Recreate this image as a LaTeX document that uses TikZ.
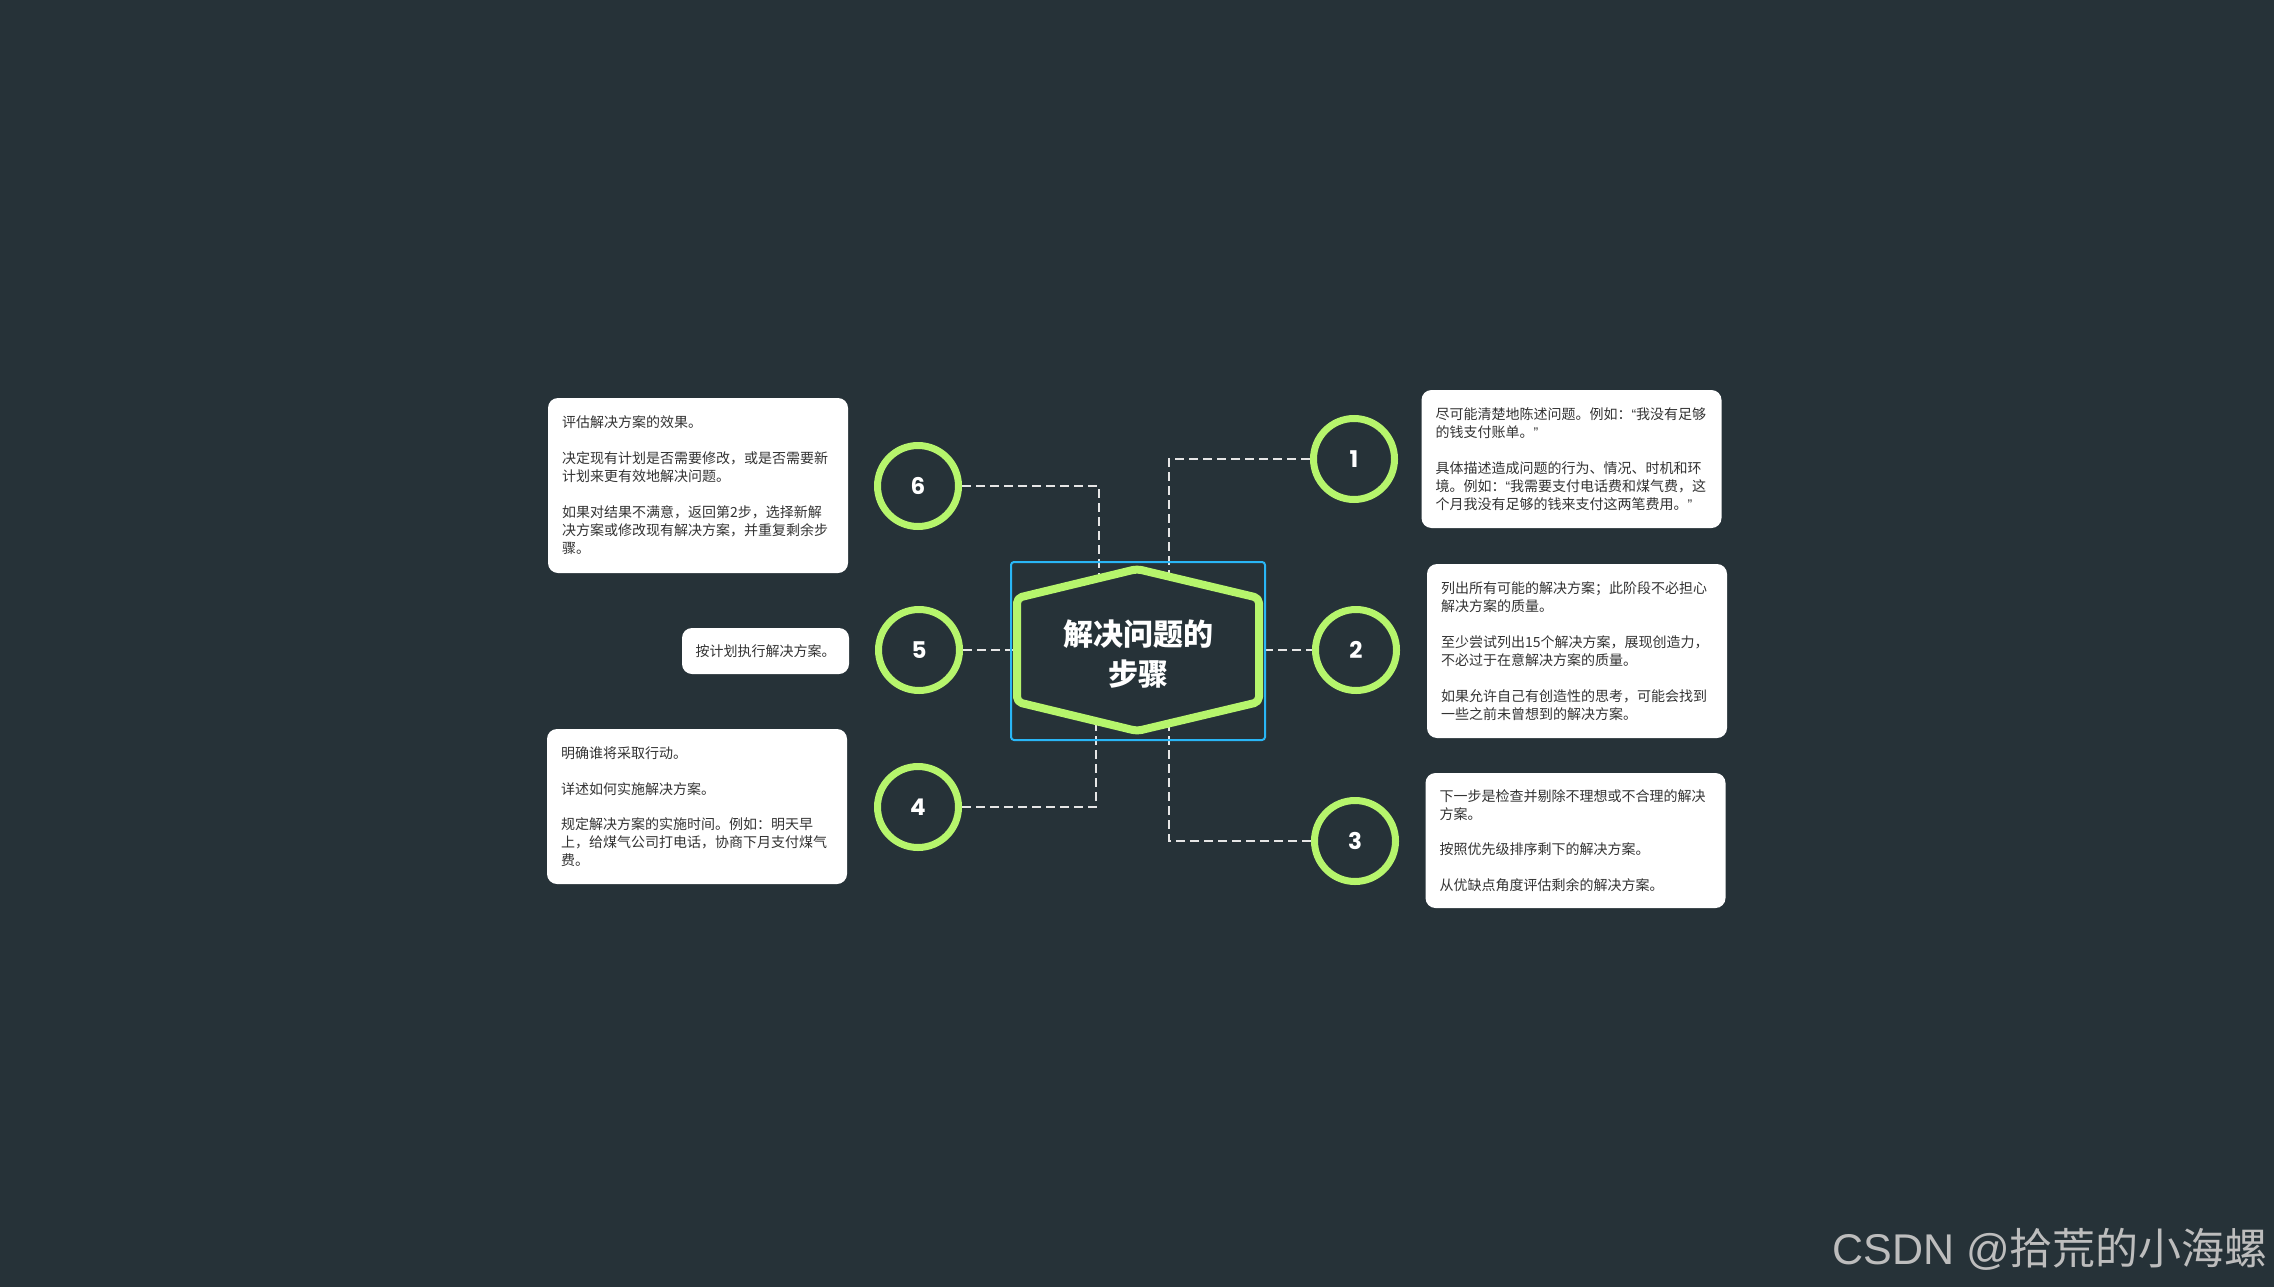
\documentclass[tikz,border=0pt]{standalone}
\usepackage{fontspec}
\newfontfamily\cjk{Noto Sans CJK SC}
\newfontfamily\numfont{Poppins}
\newfontfamily\wmfont{Liberation Sans}
\newcommand\oq{{\wmfont “}}
\newcommand\cq{{\wmfont ”}}
\usetikzlibrary{calc}
\definecolor{bg}{HTML}{263238}
\definecolor{lime}{HTML}{B6F56C}
\definecolor{selblue}{HTML}{29B6F6}
\definecolor{dashc}{HTML}{E6E6E6}
\definecolor{txt}{HTML}{333333}
\definecolor{wm}{HTML}{BDBDBD}
\tikzset{
  numcircle/.style={circle,draw=lime,line width=7pt,fill=bg,minimum size=81pt,inner sep=0pt,
    text=white,font=\numfont\bfseries\fontsize{23pt}{23pt}\selectfont},
  notebox/.style={rectangle,rounded corners=10pt,fill=white,draw=none,align=left,inner xsep=14pt,
    inner ysep=0pt,text=txt,font=\cjk\fontsize{14pt}{18pt}\selectfont},
  conn/.style={draw=dashc,line width=2pt,dash pattern=on 9pt off 5pt},
}
\begin{document}
\begin{tikzpicture}[x=1pt,y=-1pt]
\fill[bg] (0,0) rectangle (2274,1287);
\useasboundingbox (0,0) rectangle (2274,1287);

% centre anchor
\coordinate (hexc) at (1138,650);

% circles
\node[numcircle] (c1) at (1354,459) {1};
\node[numcircle] (c2) at (1356,650) {2};
\node[numcircle] (c3) at (1355,841) {3};
\node[numcircle] (c4) at (918,807) {4};
\node[numcircle] (c5) at (919,650) {5};
\node[numcircle] (c6) at (918,486) {6};

% connectors (drawn under the hexagon)
\draw[conn] (c6.east) -| ($(hexc)+(-39,0)$);
\draw[conn] (c1.west) -| ($(hexc)+(31,0)$);
\draw[conn] (c5.east) -- (hexc);
\draw[conn] (hexc) -- (c2.west);
\draw[conn] (c4.east) -| ($(hexc)+(-42,0)$);
\draw[conn] (c3.west) -| ($(hexc)+(31,0)$);

% selection frame
\draw[selblue,line width=2pt,rounded corners=3pt] (1011,562) rectangle (1265,740);

% hexagon
\draw[lime,line width=8pt,fill=bg,rounded corners=5pt,line join=round]
  (1137,569) -- (1259,598) -- (1259,702) -- (1137,731) -- (1017,702) -- (1017,598) -- cycle;
\node[text=white,align=center,font=\cjk\bfseries\fontsize{30pt}{40pt}\selectfont] (hex) at (1138,654)
  {解决问题的\\步骤};

% note boxes
\node[notebox,text width=272pt,minimum height=175pt] (t6) at (698,485.5)
  {评估解决方案的效果。\\[18pt]
   决定现有计划是否需要修改，或是否需要新\\计划来更有效地解决问题。\\[18pt]
   如果对结果不满意，返回第2步，选择新解\\决方案或修改现有解决方案，并重复剩余步\\骤。};
\node[notebox,text width=272pt,minimum height=138pt] (t1) at (1571.5,459)
  {尽可能清楚地陈述问题。例如：\oq 我没有足够\\的钱支付账单。\cq\\[18pt]
   具体描述造成问题的行为、情况、时机和环\\境。例如：\oq 我需要支付电话费和煤气费，这\\个月我没有足够的钱来支付这两笔费用。\cq};
\node[notebox,text width=272pt,minimum height=174pt] (t2) at (1577,651)
  {列出所有可能的解决方案；此阶段不必担心\\解决方案的质量。\\[18pt]
   至少尝试列出15个解决方案，展现创造力，\\不必过于在意解决方案的质量。\\[18pt]
   如果允许自己有创造性的思考，可能会找到\\一些之前未曾想到的解决方案。};
\node[notebox,text width=272pt,minimum height=135pt] (t3) at (1575.5,840.5)
  {下一步是检查并剔除不理想或不合理的解决\\方案。\\[17pt]
   按照优先级排序剩下的解决方案。\\[18pt]
   从优缺点角度评估剩余的解决方案。};
\node[notebox,text width=272pt,minimum height=155pt] (t4) at (697,806.5)
  {明确谁将采取行动。\\[18pt]
   详述如何实施解决方案。\\[17pt]
   规定解决方案的实施时间。例如：明天早\\上，给煤气公司打电话，协商下月支付煤气\\费。};
\node[notebox,text width=140pt,inner xsep=13.5pt,minimum height=46pt] (t5) at (765.5,651)
  {按计划执行解决方案。};

% watermark
\node[anchor=east,text=wm,inner sep=0pt] (wmk) at (2268,1249)
  {\wmfont\fontsize{43pt}{43pt}\selectfont CSDN @\cjk 拾荒的小海螺};
\end{tikzpicture}
\end{document}
